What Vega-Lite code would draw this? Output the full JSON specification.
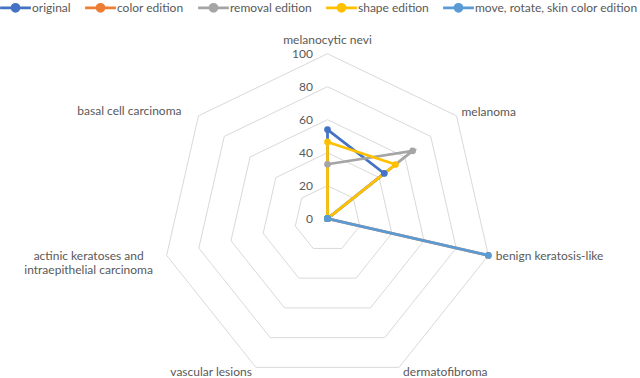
{
  "$schema": "https://vega.github.io/schema/vega-lite/v6.json",
  "width": 640,
  "height": 378,
  "autosize": {"type": "none"},
  "padding": 0,
  "background": "white",
  "config": {"view": {"stroke": null}, "font": "Lato", "text": {"font": "Lato", "fontSize": 12, "fill": "#595959", "baseline": "middle"}},
  "datasets": {
    "scores": [
      {"series": "original", "category": "melanocytic nevi", "idx": 0, "value": 54},
      {"series": "original", "category": "melanoma", "idx": 1, "value": 44},
      {"series": "original", "category": "benign keratosis-like", "idx": 2, "value": 0},
      {"series": "original", "category": "dermatofibroma", "idx": 3, "value": 0},
      {"series": "original", "category": "vascular lesions", "idx": 4, "value": 0},
      {"series": "original", "category": "actinic keratoses and intraepithelial carcinoma", "idx": 5, "value": 0},
      {"series": "original", "category": "basal cell carcinoma", "idx": 6, "value": 0},
      {"series": "color edition", "category": "melanocytic nevi", "idx": 0, "value": 0},
      {"series": "color edition", "category": "melanoma", "idx": 1, "value": 0},
      {"series": "color edition", "category": "benign keratosis-like", "idx": 2, "value": 100},
      {"series": "color edition", "category": "dermatofibroma", "idx": 3, "value": 0},
      {"series": "color edition", "category": "vascular lesions", "idx": 4, "value": 0},
      {"series": "color edition", "category": "actinic keratoses and intraepithelial carcinoma", "idx": 5, "value": 0},
      {"series": "color edition", "category": "basal cell carcinoma", "idx": 6, "value": 0},
      {"series": "removal edition", "category": "melanocytic nevi", "idx": 0, "value": 33},
      {"series": "removal edition", "category": "melanoma", "idx": 1, "value": 66},
      {"series": "removal edition", "category": "benign keratosis-like", "idx": 2, "value": 0},
      {"series": "removal edition", "category": "dermatofibroma", "idx": 3, "value": 0},
      {"series": "removal edition", "category": "vascular lesions", "idx": 4, "value": 0},
      {"series": "removal edition", "category": "actinic keratoses and intraepithelial carcinoma", "idx": 5, "value": 0},
      {"series": "removal edition", "category": "basal cell carcinoma", "idx": 6, "value": 0},
      {"series": "shape edition", "category": "melanocytic nevi", "idx": 0, "value": 46.5},
      {"series": "shape edition", "category": "melanoma", "idx": 1, "value": 52.7},
      {"series": "shape edition", "category": "benign keratosis-like", "idx": 2, "value": 0},
      {"series": "shape edition", "category": "dermatofibroma", "idx": 3, "value": 0},
      {"series": "shape edition", "category": "vascular lesions", "idx": 4, "value": 0},
      {"series": "shape edition", "category": "actinic keratoses and intraepithelial carcinoma", "idx": 5, "value": 0},
      {"series": "shape edition", "category": "basal cell carcinoma", "idx": 6, "value": 0},
      {"series": "move, rotate, skin color edition", "category": "melanocytic nevi", "idx": 0, "value": 0},
      {"series": "move, rotate, skin color edition", "category": "melanoma", "idx": 1, "value": 0},
      {"series": "move, rotate, skin color edition", "category": "benign keratosis-like", "idx": 2, "value": 100},
      {"series": "move, rotate, skin color edition", "category": "dermatofibroma", "idx": 3, "value": 0},
      {"series": "move, rotate, skin color edition", "category": "vascular lesions", "idx": 4, "value": 0},
      {"series": "move, rotate, skin color edition", "category": "actinic keratoses and intraepithelial carcinoma", "idx": 5, "value": 0},
      {"series": "move, rotate, skin color edition", "category": "basal cell carcinoma", "idx": 6, "value": 0}
    ],
    "cats": [
      {"category": "melanocytic nevi", "idx": 0},
      {"category": "melanoma", "idx": 1},
      {"category": "benign keratosis-like", "idx": 2},
      {"category": "dermatofibroma", "idx": 3},
      {"category": "vascular lesions", "idx": 4},
      {"category": "actinic keratoses and intraepithelial carcinoma", "idx": 5},
      {"category": "basal cell carcinoma", "idx": 6}
    ],
    "grid": [
      {"ring": 20, "idx": 0}, {"ring": 20, "idx": 1}, {"ring": 20, "idx": 2}, {"ring": 20, "idx": 3}, {"ring": 20, "idx": 4}, {"ring": 20, "idx": 5}, {"ring": 20, "idx": 6},
      {"ring": 40, "idx": 0}, {"ring": 40, "idx": 1}, {"ring": 40, "idx": 2}, {"ring": 40, "idx": 3}, {"ring": 40, "idx": 4}, {"ring": 40, "idx": 5}, {"ring": 40, "idx": 6},
      {"ring": 60, "idx": 0}, {"ring": 60, "idx": 1}, {"ring": 60, "idx": 2}, {"ring": 60, "idx": 3}, {"ring": 60, "idx": 4}, {"ring": 60, "idx": 5}, {"ring": 60, "idx": 6},
      {"ring": 80, "idx": 0}, {"ring": 80, "idx": 1}, {"ring": 80, "idx": 2}, {"ring": 80, "idx": 3}, {"ring": 80, "idx": 4}, {"ring": 80, "idx": 5}, {"ring": 80, "idx": 6},
      {"ring": 100, "idx": 0}, {"ring": 100, "idx": 1}, {"ring": 100, "idx": 2}, {"ring": 100, "idx": 3}, {"ring": 100, "idx": 4}, {"ring": 100, "idx": 5}, {"ring": 100, "idx": 6}
    ],
    "rings": [{"ring": 0}, {"ring": 20}, {"ring": 40}, {"ring": 60}, {"ring": 80}, {"ring": 100}]
  },
  "encoding": {
    "x": {"field": "px", "type": "quantitative", "scale": {"domain": [-198.48, 189.39], "nice": false, "zero": false}, "axis": null},
    "y": {"field": "py", "type": "quantitative", "scale": {"domain": [-96.55, 132.55], "nice": false, "zero": false}, "axis": null}
  },
  "layer": [
    {
      "data": {"name": "grid"},
      "transform": [
        {"calculate": "datum.ring*sin(datum.idx*2*PI/7)", "as": "px"},
        {"calculate": "datum.ring*cos(datum.idx*2*PI/7)", "as": "py"}
      ],
      "mark": {"type": "line", "interpolate": "linear-closed", "stroke": "#D9D9D9", "strokeWidth": 1},
      "encoding": {"detail": {"field": "ring"}, "order": {"field": "idx", "type": "quantitative"}}
    },
    {
      "data": {"name": "rings"},
      "transform": [
        {"calculate": "0", "as": "px"},
        {"calculate": "datum.ring", "as": "py"}
      ],
      "mark": {"type": "text", "align": "right", "dx": -14.5},
      "encoding": {
        "text": {"field": "ring", "type": "quantitative"}
      }
    },
    {
      "data": {"name": "scores"},
      "transform": [
        {"calculate": "datum.value*sin(datum.idx*2*PI/7)", "as": "px"},
        {"calculate": "datum.value*cos(datum.idx*2*PI/7)", "as": "py"}
      ],
      "mark": {"type": "line", "interpolate": "linear-closed"},
      "encoding": {
        "order": {"field": "idx", "type": "quantitative"},
        "strokeWidth": {
          "field": "series", "type": "nominal", "legend": null,
          "scale": {"domain": ["original", "color edition", "removal edition", "shape edition", "move, rotate, skin color edition"], "range": [2.75, 2.75, 2.75, 2.75, 3.5]}
        },
        "color": {
          "field": "series", "type": "nominal",
          "scale": {"domain": ["original", "color edition", "removal edition", "shape edition", "move, rotate, skin color edition"], "range": ["#4472C4", "#ED7D31", "#A5A5A5", "#FFC000", "#5B9BD5"]},
          "legend": {
            "orient": "none", "legendX": 0, "legendY": -8, "direction": "horizontal", "title": null,
            "symbolType": "M-1.1,0H1.1M-0.25,0A0.25,0.25,0,1,0,0.25,0A0.25,0.25,0,1,0,-0.25,0Z",
            "symbolSize": 784, "symbolStrokeWidth": 3,
            "labelFont": "Lato", "labelFontSize": 12, "labelColor": "#595959", "labelOffset": 1, "columnPadding": 8, "labelLimit": 0,
            "encode": {"symbols": {"update": {"fill": {"scale": "color", "field": "value"}, "opacity": {"value": 1}, "strokeWidth": {"value": 3}}}}
          }
        }
      }
    },
    {
      "data": {"name": "scores"},
      "transform": [
        {"calculate": "datum.value*sin(datum.idx*2*PI/7)", "as": "px"},
        {"calculate": "datum.value*cos(datum.idx*2*PI/7)", "as": "py"}
      ],
      "mark": {"type": "point", "filled": true, "size": 45, "opacity": 1},
      "encoding": {
        "color": {"field": "series", "type": "nominal", "legend": null}
      }
    },
    {
      "data": {"name": "cats"},
      "transform": [{"filter": "datum.idx==0"}, {"calculate": "100*sin(datum.idx*2*PI/7)", "as": "px"}, {"calculate": "100*cos(datum.idx*2*PI/7)", "as": "py"}],
      "mark": {"type": "text", "align": "center", "dy": -14},
      "encoding": {"text": {"field": "category"}}
    },
    {
      "data": {"name": "cats"},
      "transform": [{"filter": "datum.idx==1"}, {"calculate": "100*sin(datum.idx*2*PI/7)", "as": "px"}, {"calculate": "100*cos(datum.idx*2*PI/7)", "as": "py"}],
      "mark": {"type": "text", "align": "left", "dx": 5, "dy": -4},
      "encoding": {"text": {"field": "category"}}
    },
    {
      "data": {"name": "cats"},
      "transform": [{"filter": "datum.idx==2"}, {"calculate": "100*sin(datum.idx*2*PI/7)", "as": "px"}, {"calculate": "100*cos(datum.idx*2*PI/7)", "as": "py"}],
      "mark": {"type": "text", "align": "left", "dx": 7.5, "dy": 0.5},
      "encoding": {"text": {"field": "category"}}
    },
    {
      "data": {"name": "cats"},
      "transform": [{"filter": "datum.idx==3"}, {"calculate": "100*sin(datum.idx*2*PI/7)", "as": "px"}, {"calculate": "100*cos(datum.idx*2*PI/7)", "as": "py"}],
      "mark": {"type": "text", "align": "left", "dx": 4, "dy": 4.5},
      "encoding": {"text": {"field": "category"}}
    },
    {
      "data": {"name": "cats"},
      "transform": [{"filter": "datum.idx==4"}, {"calculate": "100*sin(datum.idx*2*PI/7)", "as": "px"}, {"calculate": "100*cos(datum.idx*2*PI/7)", "as": "py"}],
      "mark": {"type": "text", "align": "right", "dx": -4, "dy": 4.5},
      "encoding": {"text": {"field": "category"}}
    },
    {
      "data": {"name": "cats"},
      "transform": [{"filter": "datum.idx==5"}, {"calculate": "100*sin(datum.idx*2*PI/7)", "as": "px"}, {"calculate": "100*cos(datum.idx*2*PI/7)", "as": "py"}, {"calculate": "replace(datum.category, ' and ', ' and|')", "as": "label"}],
      "mark": {"type": "text", "align": "center", "dx": -78, "dy": 1, "lineBreak": "|", "lineHeight": 13.5},
      "encoding": {"text": {"field": "label"}}
    },
    {
      "data": {"name": "cats"},
      "transform": [{"filter": "datum.idx==6"}, {"calculate": "100*sin(datum.idx*2*PI/7)", "as": "px"}, {"calculate": "100*cos(datum.idx*2*PI/7)", "as": "py"}],
      "mark": {"type": "text", "align": "right", "dx": -17, "dy": -5},
      "encoding": {"text": {"field": "category"}}
    }
  ]
}
